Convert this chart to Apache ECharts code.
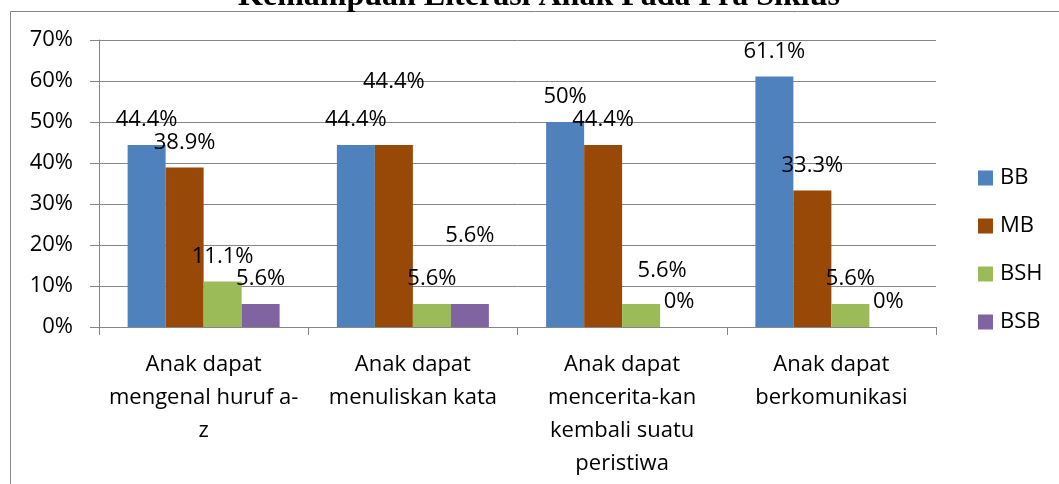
<!DOCTYPE html>
<html>
<head>
<meta charset="utf-8">
<script src="https://cdn.jsdelivr.net/npm/echarts@6/dist/echarts.min.js"></script>
<style>
html,body{margin:0;padding:0;background:#fff;}
#chart{width:1059px;height:484px;}
</style>
</head>
<body>
<div id="chart"></div>
<script>
const titleText = 'Kemampuan Literasi Anak Pada Pra Siklus';
const categories = [
  'Anak dapat\nmengenal huruf a-\nz',
  'Anak dapat\nmenuliskan kata',
  'Anak dapat\nmencerita-kan\nkembali suatu\nperistiwa',
  'Anak dapat\nberkomunikasi'
];
const seriesNames = ['BB', 'MB', 'BSH', 'BSB'];
const bb  = [44.4, 44.4, 50, 61.1];
const mb  = [38.9, 44.4, 44.4, 33.3];
const bsh = [11.1, 5.6, 5.6, 5.6];
const bsb = [5.6, 5.6, 0, 0];
const yTicks = [0, 10, 20, 30, 40, 50, 60, 70];

// styling (not data)
const colors = ['#4F81BD', '#984807', '#9BBB59', '#8064A2'];
const FONT = '"Open Sans", "Liberation Sans", sans-serif';
const GRAY = '#868686';
// manual label nudges, as placed in the original: [seriesIndex-categoryIndex] -> [dx, dy]
const labelNudge = {
  '1-1': [0, -38],
  '3-1': [0, -43],
  '2-2': [21, -8]
};

const allValues = [bb, mb, bsh, bsb];
const series = allValues.map((vals, si) => ({
  name: seriesNames[si],
  type: 'bar',
  barWidth: 38,
  barGap: '0%',
  itemStyle: { color: colors[si] },
  label: {
    show: true,
    position: 'top',
    distance: 14,
    color: '#000',
    fontFamily: FONT,
    fontSize: 22,
    formatter: p => p.value + '%'
  },
  data: vals.map((v, ci) => {
    const nudge = labelNudge[si + '-' + ci];
    return nudge ? { value: v, label: { offset: nudge } } : v;
  })
}));

const chart = echarts.init(document.getElementById('chart'));
chart.setOption({
  animation: false,
  backgroundColor: '#fff',
  graphic: [
    {
      type: 'rect',
      shape: { x: 10.5, y: 11.5, width: 1200, height: 700 },
      style: { fill: 'none', stroke: GRAY, lineWidth: 1 },
      z: -10
    },
    {
      type: 'text',
      x: 539, y: -3,
      style: {
        text: titleText,
        fill: '#000',
        font: 'bold 32px "Liberation Serif", "Times New Roman", serif',
        align: 'center',
        verticalAlign: 'middle'
      },
      z: 10
    }
  ],
  grid: { left: 99, top: 40, right: 123, bottom: 157 },
  legend: {
    orient: 'vertical',
    left: 973,
    top: 162,
    itemWidth: 15,
    itemHeight: 15,
    itemGap: 26,
    icon: 'rect',
    data: seriesNames,
    textStyle: { color: '#000', fontFamily: FONT, fontSize: 22, padding: [0, 0, 0, 2] }
  },
  xAxis: {
    type: 'category',
    data: categories,
    axisLine: { show: true, lineStyle: { color: GRAY, width: 1 } },
    axisTick: { show: true, length: 8, alignWithLabel: false, lineStyle: { color: GRAY } },
    axisLabel: {
      interval: 0,
      margin: 21,
      color: '#000',
      fontFamily: FONT,
      fontSize: 22,
      lineHeight: 33
    }
  },
  yAxis: {
    type: 'value',
    min: yTicks[0],
    max: yTicks[yTicks.length - 1],
    interval: yTicks[1] - yTicks[0],
    axisLine: { show: true, lineStyle: { color: GRAY, width: 1 } },
    axisTick: { show: true, length: 9, lineStyle: { color: GRAY } },
    splitLine: { show: true, lineStyle: { color: GRAY, width: 1 } },
    axisLabel: {
      margin: 26,
      color: '#000',
      fontFamily: FONT,
      fontSize: 22,
      formatter: v => v + '%'
    }
  },
  series: series
});
</script>
</body>
</html>
